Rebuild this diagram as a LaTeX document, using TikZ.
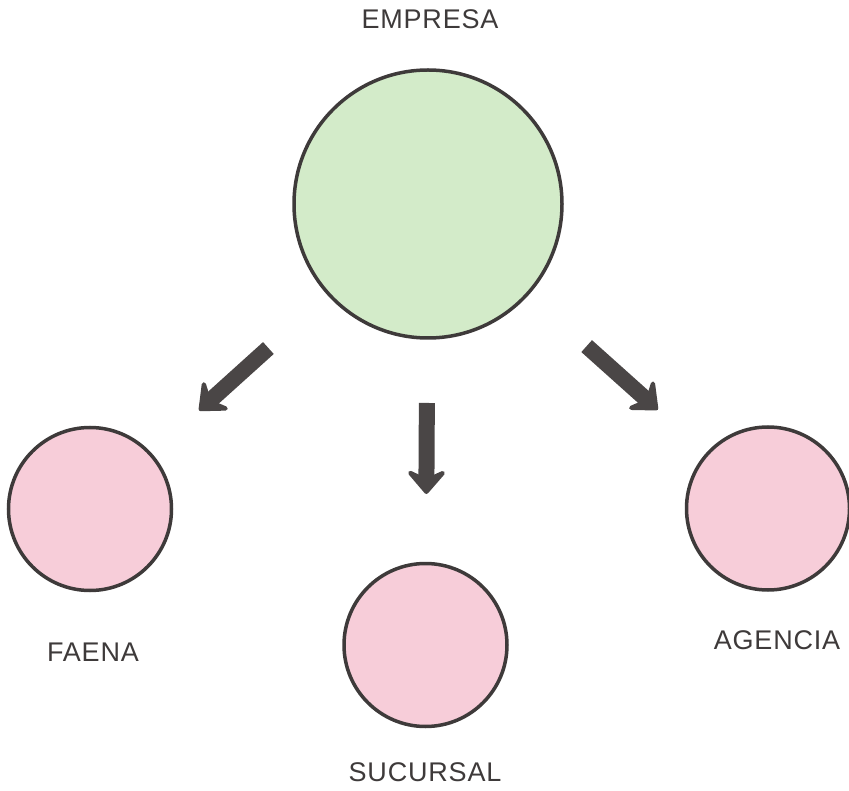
\documentclass[tikz,border=0pt]{standalone}
\usepackage{fontspec}
\setmainfont{Liberation Sans}[LetterSpace=3]
\usetikzlibrary{arrows.meta}
\definecolor{ink}{HTML}{3E3A3A}
\definecolor{arrowgray}{HTML}{4A4646}
\definecolor{greenfill}{HTML}{D3EBC9}
\definecolor{pinkfill}{HTML}{F7CDD9}
\tikzset{
  bigcirc/.style={circle, draw=ink, line width=3.5pt, fill=greenfill, inner sep=0pt, minimum size=268pt},
  smallcirc/.style={circle, draw=ink, line width=3.5pt, fill=pinkfill, inner sep=0pt, minimum size=163pt},
  lbl/.style={text=ink, font=\fontsize{27}{30}\selectfont, inner sep=0pt, anchor=center},
  fatarrow/.style={draw=arrowgray, line width=16pt,
    -{Stealth[length=28pt, width=48pt, inset=11pt, round, line width=8pt]}}
}
\begin{document}
\begin{tikzpicture}[x=1pt, y=-1pt]
\useasboundingbox (0,0) rectangle (849,791);
\node[bigcirc] (empresa) at (428,204) {};
\node[smallcirc] (faena) at (90,509) {};
\node[smallcirc] (sucursal) at (425.5,645) {};
\node[smallcirc] (agencia) at (768,508.5) {};
\node[lbl] (tempresa) at (430,19) {EMPRESA};
\node[lbl] (tfaena) at (93,652) {FAENA};
\node[lbl] (tsucursal) at (425,772) {SUCURSAL};
\node[lbl] (tagencia) at (777,640) {AGENCIA};
\draw[fatarrow, shorten <=215pt, shorten >=147pt] (empresa.center) -- (faena.center);
\draw[fatarrow, shorten <=199pt, shorten >=151pt] (empresa.center) -- (sucursal.center);
\draw[fatarrow, shorten <=213pt, shorten >=148pt] (empresa.center) -- (agencia.center);
\end{tikzpicture}
\end{document}
